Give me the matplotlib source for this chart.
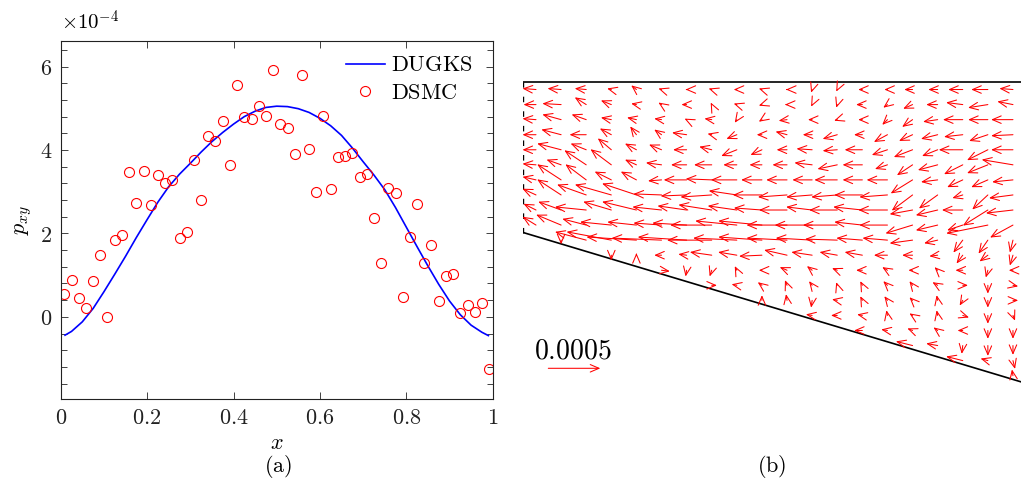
import matplotlib
matplotlib.use("Agg")
import matplotlib.pyplot as plt
from matplotlib.ticker import MultipleLocator, FixedLocator
from matplotlib.patches import ArrowStyle

plt.rcParams['mathtext.fontset'] = 'cm'
plt.rcParams['font.family'] = ['DejaVu Serif']

# ---------------- panel (a) data ----------------
dugks_x = [0.01, 0.025, 0.05, 0.075, 0.1, 0.125, 0.15, 0.175, 0.2, 0.225, 0.25,
           0.275, 0.3, 0.325, 0.35, 0.375, 0.4, 0.425, 0.45, 0.475, 0.5,
           0.525, 0.55, 0.575, 0.6, 0.625, 0.65, 0.675, 0.7, 0.725, 0.75,
           0.775, 0.8, 0.825, 0.85, 0.875, 0.9, 0.925, 0.95, 0.975, 0.99]
dugks_y = [-0.44, -0.35, -0.12, 0.2, 0.6, 1.02, 1.45, 1.9, 2.33, 2.75, 3.12,
           3.42, 3.68, 3.95, 4.2, 4.42, 4.62, 4.8, 4.93, 5.02, 5.05,
           5.04, 4.99, 4.9, 4.76, 4.58, 4.35, 4.05, 3.72, 3.4, 3.05,
           2.62, 2.15, 1.68, 1.22, 0.78, 0.38, 0.05, -0.2, -0.37, -0.45]

dsmc_x = [0.008, 0.025, 0.042, 0.058, 0.075, 0.092, 0.108, 0.125, 0.142, 0.158,
          0.175, 0.192, 0.208, 0.225, 0.242, 0.258, 0.275, 0.292, 0.308, 0.325,
          0.342, 0.358, 0.375, 0.392, 0.408, 0.425, 0.442, 0.458, 0.475, 0.492,
          0.508, 0.525, 0.542, 0.558, 0.575, 0.592, 0.608, 0.625, 0.642, 0.658,
          0.675, 0.692, 0.708, 0.725, 0.742, 0.758, 0.775, 0.792, 0.808, 0.825,
          0.842, 0.858, 0.875, 0.892, 0.908, 0.925, 0.942, 0.958, 0.975, 0.992]
dsmc_y = [0.55, 0.88, 0.45, 0.20, 0.86, 1.48, 0.00, 1.85, 1.95, 3.48,
          2.72, 3.49, 2.67, 3.40, 3.22, 3.27, 1.88, 2.03, 3.76, 2.79,
          4.34, 4.21, 4.70, 3.63, 5.55, 4.78, 4.74, 5.05, 4.82, 5.91,
          4.63, 4.52, 3.90, 5.79, 4.03, 3.00, 4.82, 3.07, 3.83, 3.86,
          3.92, 3.36, 3.43, 2.36, 1.29, 3.10, 2.96, 0.48, 1.91, 2.71,
          1.29, 1.73, 0.39, 0.98, 1.03, 0.09, 0.28, 0.11, 0.33, -1.25]

x_ticks = [0, 0.2, 0.4, 0.6, 0.8, 1]
x_ticklabels = ['$0$', '$0.2$', '$0.4$', '$0.6$', '$0.8$', '$1$']
y_ticks = [0, 2, 4, 6]
y_ticklabels = ['$0$', '$2$', '$4$', '$6$']

# ---------------- panel (b) data ----------------
# grid of vector origins (tail positions)
grid_x = [0.025, 0.075, 0.125, 0.175, 0.225, 0.275, 0.325, 0.375, 0.425, 0.475,
          0.525, 0.575, 0.625, 0.675, 0.725, 0.775, 0.825, 0.875, 0.925, 0.975]
grid_y = [0.585, 0.555, 0.525, 0.495, 0.465, 0.435, 0.405, 0.375, 0.345, 0.315,
          0.285, 0.255, 0.225, 0.195, 0.165, 0.135, 0.105, 0.075, 0.045, 0.015]
N = None
# vector components in units of 1e-5
U = [
    [-13, -13, -11, -4, -5, -3, -1, -3, -3, -3, -1, -1, -1, -4, -3, -8, -9, -14, -16, -13],
    [-12, -18, -11, -10, -5, -3, -5, -1, -3, -3, -2, -1, -1, -6, -4, -9, -11, -16, -19, -15],
    [-13, -18, -14, -10, -9, -7, -2, -7, -2, -3, -8, -4, -3, -4, -5, -10, -14, -19, -19, -21],
    [-13, -19, -16, -11, -6, -7, -14, -4, -10, -5, -11, -9, -14, -8, -13, -13, -16, -18, -18, -21],
    [-13, -23, -15, -13, -11, -12, -13, -12, -15, -11, -10, -15, -14, -17, -15, -18, -15, -23, -20, -21],
    [-13, -14, -21, -20, -11, -15, -15, -17, -13, -12, -14, -17, -19, -19, -12, -15, -19, -18, -20, -30],
    [-13, -23, -20, -16, -15, -13, -22, -25, -25, -20, -20, -19, -22, -19, -20, -21, -16, -15, -16, -20],
    [-13, -23, -28, -35, -33, -27, -25, -30, -27, -28, -28, -25, -25, -27, -27, -20, -18, -10, -15, -23],
    [-12, -22, -30, -27, -33, -28, -28, -32, -28, -27, -27, -25, -27, -28, -28, -22, -21, -20, -24, -26],
    [-13, -24, -23, -30, -28, -27, -33, -40, -40, -42, -39, -36, -33, -27, -27, -26, -21, -15, -40, -22],
    [N, 0, -30, -43, -48, -48, -47, -43, -42, -42, -39, -35, -31, -25, -24, -22, -13, -9, -9, -3],
    [N, N, N, 0, 0, -7, -8, -21, -18, -22, -22, -20, -17, -17, -13, -10, -8, -6, -8, -3],
    [N, N, N, N, N, 8, -1, -2, -2, -3, -7, -5, -5, -6, -5, -4, -3, -7, -2, -4],
    [N, N, N, N, N, N, N, 5, -5, -4, -2, -3, -1, -2, -4, -3, -5, 5, 0, 5],
    [N, N, N, N, N, N, N, N, N, 0, -1, -1, -5, -2, -3, -3, -1, -3, 0, 5],
    [N, N, N, N, N, N, N, N, N, N, N, -6, -6, -5, -1, -3, -1, 6, 0, 2],
    [N, N, N, N, N, N, N, N, N, N, N, N, N, -8, -6, -5, -4, -5, 0, 0],
    [N, N, N, N, N, N, N, N, N, N, N, N, N, N, N, -16, -11, -1, 0, 0],
    [N, N, N, N, N, N, N, N, N, N, N, N, N, N, N, N, N, -16, -7, 2],
    [N, N, N, N, N, N, N, N, N, N, N, N, N, N, N, N, N, N, N, -1],
]
V = [
    [1, 1, 1, 1, 4, 1, 0, 1, 0, 1, 0, -3, -2, 0, 0, 0, 0, 0, 0, 1],
    [0, 1, 7, 4, 1, 2, 0, 2, 1, -1, 0, -2, -3, 0, -3, -4, 0, 2, -3, 3],
    [1, 5, 5, 2, 2, 1, 1, 1, -3, -2, -1, 0, -1, 0, -5, -7, -2, 0, 0, 0],
    [0, 5, 0, 6, 8, 5, 2, 1, -4, 0, 3, 0, -4, 0, -7, -6, -4, -2, -6, -1],
    [0, 6, 6, 11, 6, 5, 0, 3, -6, -5, 0, 1, -1, 0, -5, -7, -6, 0, -10, 0],
    [1, 5, 14, 15, 5, 2, 0, 0, 0, 0, 0, 2, -4, 0, -4, -10, -5, -9, -8, 5],
    [3, 15, 15, 8, 8, -1, 0, 1, 0, 0, 0, 0, 0, 0, 0, -13, -2, -7, -7, -2],
    [6, 15, 10, 10, 11, 1, -1, -2, 4, 0, -2, -2, -2, 0, -2, -15, -13, -3, -14, -3],
    [6, 8, 3, 8, 8, 3, 4, 5, 4, 2, 0, 3, 0, 3, 0, -4, -5, 0, -15, -3],
    [8, 10, 6, 3, 3, 2, 2, 0, 4, 4, 0, 0, 0, 3, 0, -8, -5, -5, -8, -12],
    [N, -4, 8, 8, 3, 2, 3, 0, 2, 3, 2, 2, 1, 2, 2, -3, -3, -12, -13, -12],
    [N, N, N, -5, 2, 0, 1, 3, 3, -1, 5, 3, 3, 3, 0, 0, -1, -8, -6, -10],
    [N, N, N, N, N, -1, -6, -6, 4, 0, 3, 4, 2, 0, 3, 0, 3, 0, -7, 0],
    [N, N, N, N, N, N, N, 0, 1, 3, 5, 4, 3, 4, 4, 4, 3, 0, -8, -1],
    [N, N, N, N, N, N, N, N, N, 5, 6, -7, 1, 4, 4, 3, 5, -5, -7, 0],
    [N, N, N, N, N, N, N, N, N, N, N, 1, 0, 1, 5, 2, 5, -2, -8, -5],
    [N, N, N, N, N, N, N, N, N, N, N, N, N, 0, 1, 2, 3, 0, -8, -8],
    [N, N, N, N, N, N, N, N, N, N, N, N, N, N, N, 4, 2, -8, -10, -9],
    [N, N, N, N, N, N, N, N, N, N, N, N, N, N, N, N, N, 4, 2, -8],
    [N, N, N, N, N, N, N, N, N, N, N, N, N, N, N, N, N, N, N, 6],
]
vec_unit = 1e-5
ref_value = 0.0005
ref_label = '$0.0005$'

# geometry of the domain (data units)
x_end = 0.991
top_y = 0.6
inlet_bottom = 0.3

# ---------------- figure ----------------
W, H = 1021, 487
fig = plt.figure(figsize=(W / 100, H / 100), dpi=100)

FS = 16

# panel (a)
axa = fig.add_axes([60.7 / W, (H - 399) / H, 432 / W, 358.3 / H])
axa.plot(dugks_x, dugks_y, color=(0, 0, 1), lw=1.2, label=r'$\mathrm{DUGKS}$')
axa.plot(dsmc_x, dsmc_y, 'o', mfc='none', mec=(1, 0, 0), ms=7.2, mew=0.8,
         label=r'$\mathrm{DSMC}$')
axa.set_xlim(0, 1)
axa.set_ylim(-1.97, 6.62)
axa.xaxis.set_major_locator(FixedLocator(x_ticks))
axa.set_xticklabels(x_ticklabels)
axa.yaxis.set_major_locator(FixedLocator(y_ticks))
axa.set_yticklabels(y_ticklabels)
axa.yaxis.set_minor_locator(MultipleLocator(0.4))
axa.tick_params(which='both', direction='in', top=True, right=True, width=0.6,
                labelsize=FS, colors='#222222')
axa.tick_params(which='major', length=5, pad=6)
axa.tick_params(which='minor', length=4)
for s in axa.spines.values():
    s.set_linewidth(0.8)
    s.set_color('#222222')
axa.set_xlabel('$x$', fontsize=FS, labelpad=2)
axa.set_ylabel('$p_{xy}$', fontsize=FS, labelpad=4)
axa.text(0.0, 1.018, r'$\times10^{-4}$', transform=axa.transAxes, fontsize=FS - 1,
         ha='left', va='bottom')
leg = axa.legend(loc='upper right', bbox_to_anchor=(0.99, 1.005), frameon=False,
                 fontsize=FS, handlelength=1.75, handletextpad=0.3,
                 labelspacing=0.25, borderaxespad=0.3)

fig.text(278 / W, 1 - 466 / H, '$\\mathrm{(a)}$', fontsize=FS, ha='center', va='center')
fig.text(772 / W, 1 - 466 / H, '$\\mathrm{(b)}$', fontsize=FS, ha='center', va='center')

# panel (b)
scale_px = 502.0
ax_left_px = 523.45
ylo, yhi = -0.02, 0.605
top_px = 82 - (yhi - top_y) * scale_px
bot_px = top_px + (yhi - ylo) * scale_px
axb = fig.add_axes([ax_left_px / W, (H - bot_px) / H, (W - ax_left_px) / W,
                    (bot_px - top_px) / H])
axb.set_xlim(0, x_end)
axb.set_ylim(ylo, yhi)
axb.axis('off')

# data units per unit of p_xy
ref_len_px = 52.0
k = (ref_len_px / scale_px) / ref_value

axb.plot([0, x_end], [top_y, top_y], color='black', lw=1.2, solid_capstyle='butt')
axb.plot([0, x_end], [inlet_bottom, inlet_bottom * (1 - x_end)], color='black', lw=1.2)
axb.plot([0, 0], [inlet_bottom, top_y], color='black', lw=1.0,
         linestyle=(0, (4.0, 6.5)))

astyle = ArrowStyle('->', head_length=6.3, head_width=2.7)
for j, yy in enumerate(grid_y):
    for i, xx in enumerate(grid_x):
        u = U[j][i]
        v = V[j][i]
        if u is None:
            continue
        dx = u * vec_unit * k
        dy = v * vec_unit * k
        axb.annotate('', xy=(xx + dx, yy + dy), xytext=(xx, yy),
                     arrowprops=dict(arrowstyle=astyle, color=(1, 0, 0), lw=0.75,
                                     shrinkA=0, shrinkB=0, mutation_scale=1),
                     annotation_clip=False)

# reference arrow
ref_x0 = (548.3 - ax_left_px) / scale_px
ref_y0 = top_y - (368.3 - 82) / scale_px
axb.annotate('', xy=(ref_x0 + ref_value * k, ref_y0), xytext=(ref_x0, ref_y0),
             arrowprops=dict(arrowstyle=astyle, color=(1, 0, 0), lw=0.75,
                             shrinkA=0, shrinkB=0, mutation_scale=1))
axb.text((573 - ax_left_px) / scale_px, top_y - (351 - 82) / scale_px, ref_label,
         fontsize=20, ha='center', va='center')

fig.savefig('out.png', dpi=100)
